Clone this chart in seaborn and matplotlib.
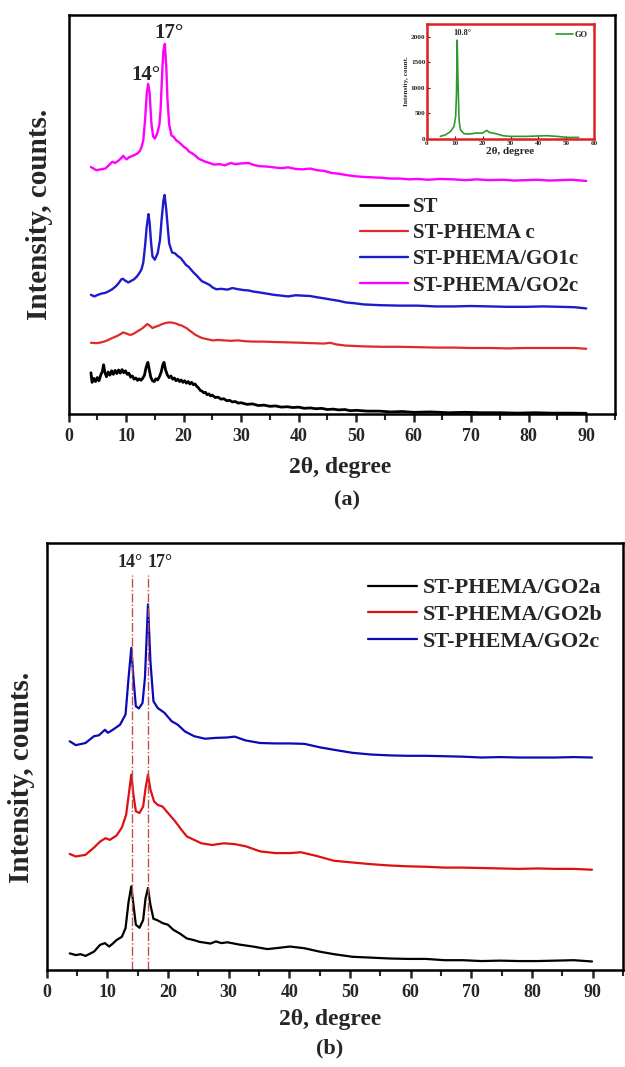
import numpy as np
import pandas as pd
import matplotlib
matplotlib.use("Agg")
import matplotlib.pyplot as plt
import seaborn as sns
from matplotlib.ticker import MultipleLocator

# curves: (2theta, relative level in % of axis height)
# panel (a)
st_a = [(3.9, 10.4), (4.1, 8.0), (4.4, 9.0), (4.7, 8.2), (5.0, 9.2), (5.3, 8.4), (5.6, 9.8),
        (5.9, 10.8), (6.1, 12.4), (6.3, 10.6), (6.6, 9.4), (6.9, 10.6), (7.2, 9.8), (7.5, 10.9),
        (7.8, 10.0), (8.1, 11.0), (8.4, 10.2), (8.7, 11.1), (9.0, 10.3), (9.3, 11.2), (9.6, 10.4),
        (9.9, 10.9), (10.2, 10.0), (10.5, 10.3), (10.8, 9.3), (11.1, 9.6), (11.4, 8.8), (11.7, 9.1),
        (12.0, 8.5), (12.3, 8.9), (12.6, 8.5), (12.9, 9.0), (13.2, 9.8), (13.5, 11.8), (13.8, 13.0),
        (14.0, 11.5), (14.3, 9.3), (14.6, 8.4), (14.9, 8.2), (15.2, 8.9), (15.5, 8.6), (15.8, 9.4),
        (16.1, 10.5), (16.4, 12.4), (16.6, 13.0), (16.9, 11.0), (17.2, 9.8), (17.5, 9.2), (17.8, 9.6),
        (18.1, 8.8), (18.4, 9.1), (18.7, 8.4), (19.0, 8.8), (19.3, 8.2), (19.6, 8.6), (19.9, 8.0),
        (20.2, 8.4), (20.5, 7.8), (20.8, 8.2), (21.1, 7.6), (21.4, 8.0), (21.7, 7.4), (22.0, 7.6),
        (22.3, 7.0), (22.6, 6.6), (22.9, 6.0), (23.2, 5.8), (23.5, 5.4), (23.8, 5.5), (24.1, 4.9),
        (24.4, 5.1), (24.7, 4.6), (25.0, 4.8), (25.5, 4.2), (26.0, 4.3), (26.5, 3.8), (27.0, 3.9),
        (27.5, 3.4), (28.0, 3.5), (28.5, 3.1), (29.0, 3.2), (29.5, 2.8), (30.0, 2.9), (31.0, 2.5),
        (32.0, 2.6), (33.0, 2.2), (34.0, 2.3), (35.0, 2.0), (36.0, 2.1), (37.0, 1.8), (38.0, 1.9),
        (39.0, 1.7), (40.0, 1.8), (41.0, 1.5), (42.0, 1.6), (43.0, 1.4), (44.0, 1.5), (45.0, 1.2),
        (46.0, 1.3), (47.0, 1.1), (48.0, 1.2), (49.0, 0.9), (50.0, 1.0), (52.0, 0.8), (54.0, 0.8),
        (56.0, 0.6), (58.0, 0.7), (60.0, 0.5), (63.0, 0.6), (66.0, 0.4), (69.0, 0.5), (72.0, 0.4),
        (75.0, 0.4), (78.0, 0.3), (81.0, 0.4), (84.0, 0.3), (87.0, 0.3), (90.0, 0.25)]

phema_c = [(3.9, 17.9), (4.8, 17.8), (5.7, 18.0), (6.6, 18.4), (7.6, 19.1), (8.3, 19.5), (8.9, 19.95),
           (9.5, 20.5), (10.1, 20.2), (10.6, 19.9), (11.0, 19.95), (11.5, 20.3), (12.0, 20.8),
           (12.5, 21.2), (12.9, 21.6), (13.3, 22.1), (13.7, 22.6), (14.1, 22.2), (14.6, 21.6),
           (15.1, 21.9), (15.7, 22.2), (16.3, 22.6), (17.0, 22.9), (17.6, 23.0), (18.2, 22.9),
           (18.7, 22.7), (19.2, 22.4), (19.7, 22.2), (20.1, 21.9), (20.6, 21.5), (21.0, 21.0),
           (21.5, 20.5), (22.0, 19.95), (22.6, 19.5), (23.2, 19.1), (24.1, 18.8), (25.1, 18.5),
           (26.0, 18.6), (27.0, 18.5), (28.2, 18.4), (29.5, 18.5), (30.7, 18.3), (32.0, 18.2),
           (33.8, 18.2), (35.7, 18.1), (38.2, 18.0), (40.7, 17.9), (42.5, 17.8), (44.4, 17.7),
           (45.5, 17.9), (46.5, 17.5), (48.2, 17.2), (51.3, 17.0), (54.4, 16.9), (57.5, 16.9),
           (60.7, 16.8), (64.0, 16.7), (67.0, 16.7), (70.0, 16.6), (73.2, 16.6), (76.3, 16.5),
           (79.4, 16.6), (82.5, 16.6), (85.6, 16.6), (88.0, 16.6), (90.0, 16.4)]

go1c = [(3.9, 29.9), (4.5, 29.5), (5.1, 29.9), (5.7, 30.2), (6.4, 30.4), (7.0, 30.8), (7.6, 31.3),
        (8.2, 32.0), (8.7, 32.8), (9.2, 33.8), (9.5, 33.9), (9.8, 33.5), (10.4, 33.0), (10.9, 33.4),
        (11.4, 33.8), (11.9, 34.5), (12.3, 35.3), (12.7, 36.3), (13.0, 38.0), (13.3, 42.0),
        (13.6, 47.0), (13.9, 50.1), (14.1, 48.0), (14.35, 43.0), (14.6, 39.5), (15.0, 38.7),
        (15.5, 40.3), (15.9, 43.6), (16.2, 49.0), (16.5, 53.5), (16.7, 54.9), (17.0, 51.1),
        (17.3, 46.0), (17.5, 42.8), (18.0, 40.5), (18.5, 40.3), (19.0, 39.6), (19.5, 39.1),
        (20.0, 38.2), (20.4, 37.4), (20.9, 36.9), (21.3, 36.2), (21.8, 35.4), (22.3, 34.7),
        (22.8, 33.9), (23.2, 33.3), (23.8, 32.9), (24.5, 32.4), (25.1, 31.7), (25.7, 31.3),
        (26.6, 31.4), (27.6, 31.2), (28.5, 31.6), (29.5, 31.3), (30.4, 31.1), (31.3, 31.0),
        (32.2, 30.7), (33.2, 30.5), (34.5, 30.2), (35.7, 29.9), (37.0, 29.7), (38.2, 29.5),
        (39.5, 29.8), (40.7, 29.7), (42.0, 29.6), (43.2, 29.3), (44.5, 29.0), (45.7, 28.7),
        (47.0, 28.4), (48.2, 28.0), (49.7, 27.8), (51.3, 27.5), (52.8, 27.4), (54.4, 27.3),
        (57.6, 27.2), (60.7, 27.2), (63.8, 27.0), (66.9, 27.0), (70.0, 27.1), (73.2, 27.0),
        (76.3, 26.9), (79.4, 26.9), (82.5, 27.0), (85.6, 26.9), (88.0, 26.8), (90.0, 26.5)]

go2c_a = [(3.9, 61.9), (4.8, 61.1), (5.6, 61.3), (6.4, 61.5), (7.0, 62.3), (7.6, 63.2), (8.1, 62.9),
          (8.6, 63.4), (9.1, 64.0), (9.5, 64.7), (9.8, 64.2), (10.1, 63.8), (10.5, 64.3), (11.0, 64.6),
          (11.5, 64.9), (12.0, 65.3), (12.4, 65.9), (12.7, 66.9), (13.0, 68.5), (13.3, 73.5),
          (13.6, 80.2), (13.85, 82.7), (14.1, 80.5), (14.4, 73.0), (14.7, 69.6), (15.0, 69.0),
          (15.4, 70.2), (15.8, 72.5), (16.0, 76.0), (16.3, 86.0), (16.5, 91.0), (16.75, 92.7),
          (17.0, 87.0), (17.2, 79.0), (17.5, 72.5), (17.9, 69.8), (18.3, 69.4), (18.7, 68.6),
          (19.1, 68.2), (19.5, 67.7), (20.0, 67.0), (20.5, 66.5), (21.0, 65.7), (21.5, 65.3),
          (22.0, 64.8), (22.6, 64.0), (23.2, 63.6), (23.8, 63.2), (24.5, 62.9), (25.3, 62.5),
          (26.3, 62.6), (27.2, 62.3), (28.2, 62.9), (29.0, 62.6), (30.1, 62.8), (31.3, 62.9),
          (32.2, 62.4), (33.2, 62.1), (34.5, 62.0), (35.7, 61.8), (37.0, 61.6), (38.2, 61.8),
          (39.5, 61.4), (40.7, 61.3), (42.0, 61.5), (43.2, 61.1), (44.5, 60.9), (45.7, 60.4),
          (47.0, 60.2), (48.2, 59.9), (49.7, 59.6), (51.3, 59.4), (52.8, 59.3), (54.4, 59.2),
          (56.0, 59.0), (57.6, 59.0), (59.2, 58.8), (60.7, 58.9), (62.5, 58.7), (64.5, 58.9),
          (66.9, 58.8), (69.0, 58.6), (71.0, 58.8), (73.2, 58.6), (75.5, 58.7), (77.5, 58.5),
          (79.4, 58.6), (81.5, 58.7), (83.5, 58.5), (85.6, 58.6), (87.5, 58.7), (90.0, 58.4)]

# inset: GO (2theta, counts)
go_inset = [(4.8, 52), (6.7, 84), (8.5, 150), (9.7, 247), (10.3, 441), (10.6, 896), (10.85, 1934),
            (11.1, 1220), (11.5, 376), (12.0, 182), (13.3, 104), (15.2, 97), (17.6, 117), (20.0, 117),
            (21.5, 169), (22.4, 130), (24.8, 104), (27.3, 65), (29.7, 52), (35.8, 52), (43.0, 65),
            (46.7, 52), (50.3, 32), (54.5, 32)]

# panel (b)
go2a = [(3.8, 3.9), (4.8, 3.5), (5.6, 3.7), (6.4, 3.3), (7.1, 3.8), (7.8, 4.3), (8.8, 5.9), (9.6, 6.3),
        (10.3, 5.5), (10.9, 6.2), (11.5, 7.0), (12.4, 7.8), (13.0, 9.8), (13.5, 16.0), (13.95, 19.6),
        (14.3, 15.3), (14.7, 10.6), (15.3, 9.9), (15.9, 11.7), (16.3, 16.8), (16.7, 19.2), (17.1, 15.3),
        (17.6, 12.0), (18.2, 11.7), (19.1, 11.0), (20.0, 10.6), (20.9, 9.4), (21.9, 8.6), (23.1, 7.4),
        (24.3, 7.0), (25.2, 6.6), (26.1, 6.4), (27.0, 6.2), (27.9, 6.7), (28.8, 6.3), (29.8, 6.5),
        (31.6, 6.0), (34.0, 5.5), (36.4, 4.9), (38.3, 5.2), (40.1, 5.5), (42.5, 5.1), (45.0, 4.3),
        (47.4, 3.7), (50.4, 3.1), (53.5, 2.9), (56.5, 2.7), (59.5, 2.6), (62.5, 2.6), (65.6, 2.3),
        (68.6, 2.3), (71.7, 2.1), (74.8, 2.2), (77.8, 2.1), (80.9, 2.1), (83.9, 2.2), (86.9, 2.3),
        (89.9, 2.0)]

go2b = [(3.8, 27.2), (4.8, 26.6), (6.4, 27.0), (7.8, 28.7), (8.8, 30.1), (9.7, 30.9), (10.4, 30.5),
        (11.5, 31.5), (12.4, 33.4), (13.1, 36.4), (13.6, 41.9), (13.95, 45.8), (14.3, 41.1),
        (14.7, 37.2), (15.3, 36.8), (15.9, 38.3), (16.3, 42.6), (16.7, 45.8), (17.1, 42.3),
        (17.7, 39.5), (18.3, 38.7), (19.1, 38.3), (20.0, 36.8), (21.2, 34.8), (22.2, 32.9),
        (23.1, 31.3), (24.3, 30.5), (25.5, 29.7), (27.3, 29.3), (29.2, 29.7), (31.0, 29.5),
        (32.8, 29.0), (35.2, 27.8), (37.7, 27.4), (40.1, 27.4), (41.9, 27.6), (44.3, 26.8),
        (47.4, 25.6), (50.4, 25.2), (53.5, 24.8), (56.5, 24.5), (59.5, 24.3), (62.5, 24.2),
        (65.6, 24.0), (68.6, 24.0), (71.7, 23.9), (74.8, 23.8), (77.8, 23.7), (80.9, 23.8),
        (83.9, 23.7), (86.9, 23.7), (89.9, 23.5)]

go2c_b = [(3.8, 53.6), (4.8, 52.7), (6.4, 53.2), (7.8, 54.8), (8.6, 55.0), (9.6, 56.3), (10.1, 55.6),
          (10.9, 56.3), (12.1, 57.5), (13.0, 59.9), (13.5, 68.5), (13.95, 75.5), (14.3, 68.5),
          (14.7, 61.8), (15.2, 61.3), (15.8, 62.6), (16.2, 68.5), (16.7, 85.7), (17.1, 72.4),
          (17.6, 63.0), (18.3, 61.4), (19.4, 60.3), (20.6, 58.3), (21.6, 57.5), (22.8, 55.9),
          (24.3, 54.8), (26.1, 54.2), (27.9, 54.4), (29.8, 54.5), (31.0, 54.7), (32.8, 53.8),
          (35.2, 53.2), (37.7, 53.1), (40.1, 53.1), (42.5, 53.0), (45.0, 52.2), (47.4, 51.6),
          (50.4, 50.9), (53.5, 50.5), (56.5, 50.3), (59.5, 50.2), (62.5, 50.2), (65.6, 50.1),
          (68.6, 50.0), (71.7, 49.8), (74.8, 49.9), (77.8, 49.8), (80.9, 49.8), (83.9, 49.8),
          (86.9, 49.9), (89.9, 49.8)]

labels_a = ["ST", "ST-PHEMA c", "ST-PHEMA/GO1c", "ST-PHEMA/GO2c"]
labels_b = ["ST-PHEMA/GO2a", "ST-PHEMA/GO2b", "ST-PHEMA/GO2c"]
peak_lines = [14.0, 16.7]


def to_df(pts):
    return pd.DataFrame(pts, columns=["theta", "level"])


sns.set_style("ticks")
plt.rcParams["font.family"] = ["Liberation Serif", "DejaVu Serif"]
plt.rcParams["font.weight"] = "bold"

fig = plt.figure(figsize=(6.25, 10.67), dpi=100)
ax_a = fig.add_axes([0.1096, 0.6117, 0.8744, 0.3745])
ax_b = fig.add_axes([0.0747, 0.0909, 0.9220, 0.3999])
ax_in = fig.add_axes([0.6832, 0.8697, 0.2672, 0.1078])


def style_main(ax):
    ax.set_xlim(0, 95)
    ax.set_ylim(0, 100)
    ax.set_yticks([])
    ax.set_xticks(range(0, 91, 10))
    ax.xaxis.set_minor_locator(MultipleLocator(5))
    ax.tick_params(axis="x", which="major", direction="out", length=6, width=1.8,
                   labelsize=13, pad=4)
    ax.tick_params(axis="x", which="minor", direction="out", length=4, width=1.5)
    for sp in ax.spines.values():
        sp.set_linewidth(1.8)
        sp.set_color("black")
    for lab in ax.get_xticklabels():
        lab.set_fontweight("bold")
    ax.set_xlabel("")
    ax.set_ylabel("")


# --- panel (a)
series_a = [st_a, phema_c, go1c, go2c_a]
colors_a = ["black", "#dd2a2a", "#1c1ccc", "#ff00ff"]
widths_a = [2.0, 1.6, 1.7, 1.7]
for pts, lab, c, w in zip(series_a, labels_a, colors_a, widths_a):
    sns.lineplot(data=to_df(pts), x="theta", y="level", ax=ax_a, color=c, lw=w,
                 sort=False, estimator=None, label=lab)
style_main(ax_a)
ax_a.legend(loc="upper left", bbox_to_anchor=(0.533, 0.544), bbox_transform=ax_a.transAxes,
            frameon=False, fontsize=15, handlelength=2.3, handletextpad=0.25,
            labelspacing=0.3, borderpad=0, borderaxespad=0)
ax_a.text(13.4, 85.0, "14°", ha="center", va="center", fontsize=15, fontweight="bold")
ax_a.text(17.5, 95.4, "17°", ha="center", va="center", fontsize=15, fontweight="bold")

# --- inset
sns.lineplot(data=pd.DataFrame(go_inset, columns=["theta", "counts"]), x="theta", y="counts",
             ax=ax_in, color="#2e9a2e", lw=1.2, sort=False, estimator=None, label="GO")
ax_in.set_xlim(0, 60)
ax_in.set_ylim(0, 2250)
ax_in.set_xticks(range(0, 61, 10))
ax_in.set_yticks(range(0, 2001, 500))
ax_in.tick_params(labelsize=5.2, length=2, width=0.8, pad=1.2, direction="in")
for sp in ax_in.spines.values():
    sp.set_color("#e02020")
    sp.set_linewidth(1.8)
for lab in ax_in.get_xticklabels() + ax_in.get_yticklabels():
    lab.set_fontweight("bold")
ax_in.set_xlabel("2θ, degree", fontsize=8, fontweight="bold", labelpad=1)
ax_in.set_ylabel("Intensity, count.", fontsize=5.2, fontweight="bold", labelpad=1.5)
ax_in.legend(loc="upper right", frameon=False, fontsize=6, handlelength=2,
             handletextpad=0.2, borderpad=0.3)
ax_in.text(12.6, 2074, "10.8°", ha="center", va="center", fontsize=6, fontweight="bold")

# --- panel (b)
series_b = [go2a, go2b, go2c_b]
colors_b = ["black", "#dd1111", "#0a0ab4"]
for pts, lab, c in zip(series_b, labels_b, colors_b):
    sns.lineplot(data=to_df(pts), x="theta", y="level", ax=ax_b, color=c, lw=1.6,
                 sort=False, estimator=None, label=lab)
style_main(ax_b)
for xv in peak_lines:
    ax_b.plot([xv, xv], [0, 92.6], color="#c0504d", lw=1.0, ls="-.")
ax_b.legend(loc="upper left", bbox_to_anchor=(0.558, 0.919), bbox_transform=ax_b.transAxes,
            frameon=False, fontsize=16, handlelength=2.2, handletextpad=0.25,
            labelspacing=0.28, borderpad=0, borderaxespad=0)
ax_b.text(13.7, 95.4, "14°", ha="center", va="center", fontsize=13, fontweight="bold")
ax_b.text(18.7, 95.4, "17°", ha="center", va="center", fontsize=13, fontweight="bold")

# axis titles and panel letters
fig.text(40 / 625, 1 - 214 / 1067, "Intensity, counts.", rotation=90, ha="center", va="center",
         fontsize=21, fontweight="bold")
fig.text(340 / 625, 1 - 468 / 1067, "2θ, degree", ha="center", va="center",
         fontsize=17, fontweight="bold")
fig.text(347 / 625, 1 - 500 / 1067, "(a)", ha="center", va="center", fontsize=16, fontweight="bold")

fig.text(22 / 625, 1 - 777 / 1067, "Intensity, counts.", rotation=90, ha="center", va="center",
         fontsize=21, fontweight="bold")
fig.text(330 / 625, 1 - 1020 / 1067, "2θ, degree", ha="center", va="center",
         fontsize=17, fontweight="bold")
fig.text(330 / 625, 1 - 1048 / 1067, "(b)", ha="center", va="center", fontsize=16, fontweight="bold")

fig.savefig("out.png", dpi=100)
